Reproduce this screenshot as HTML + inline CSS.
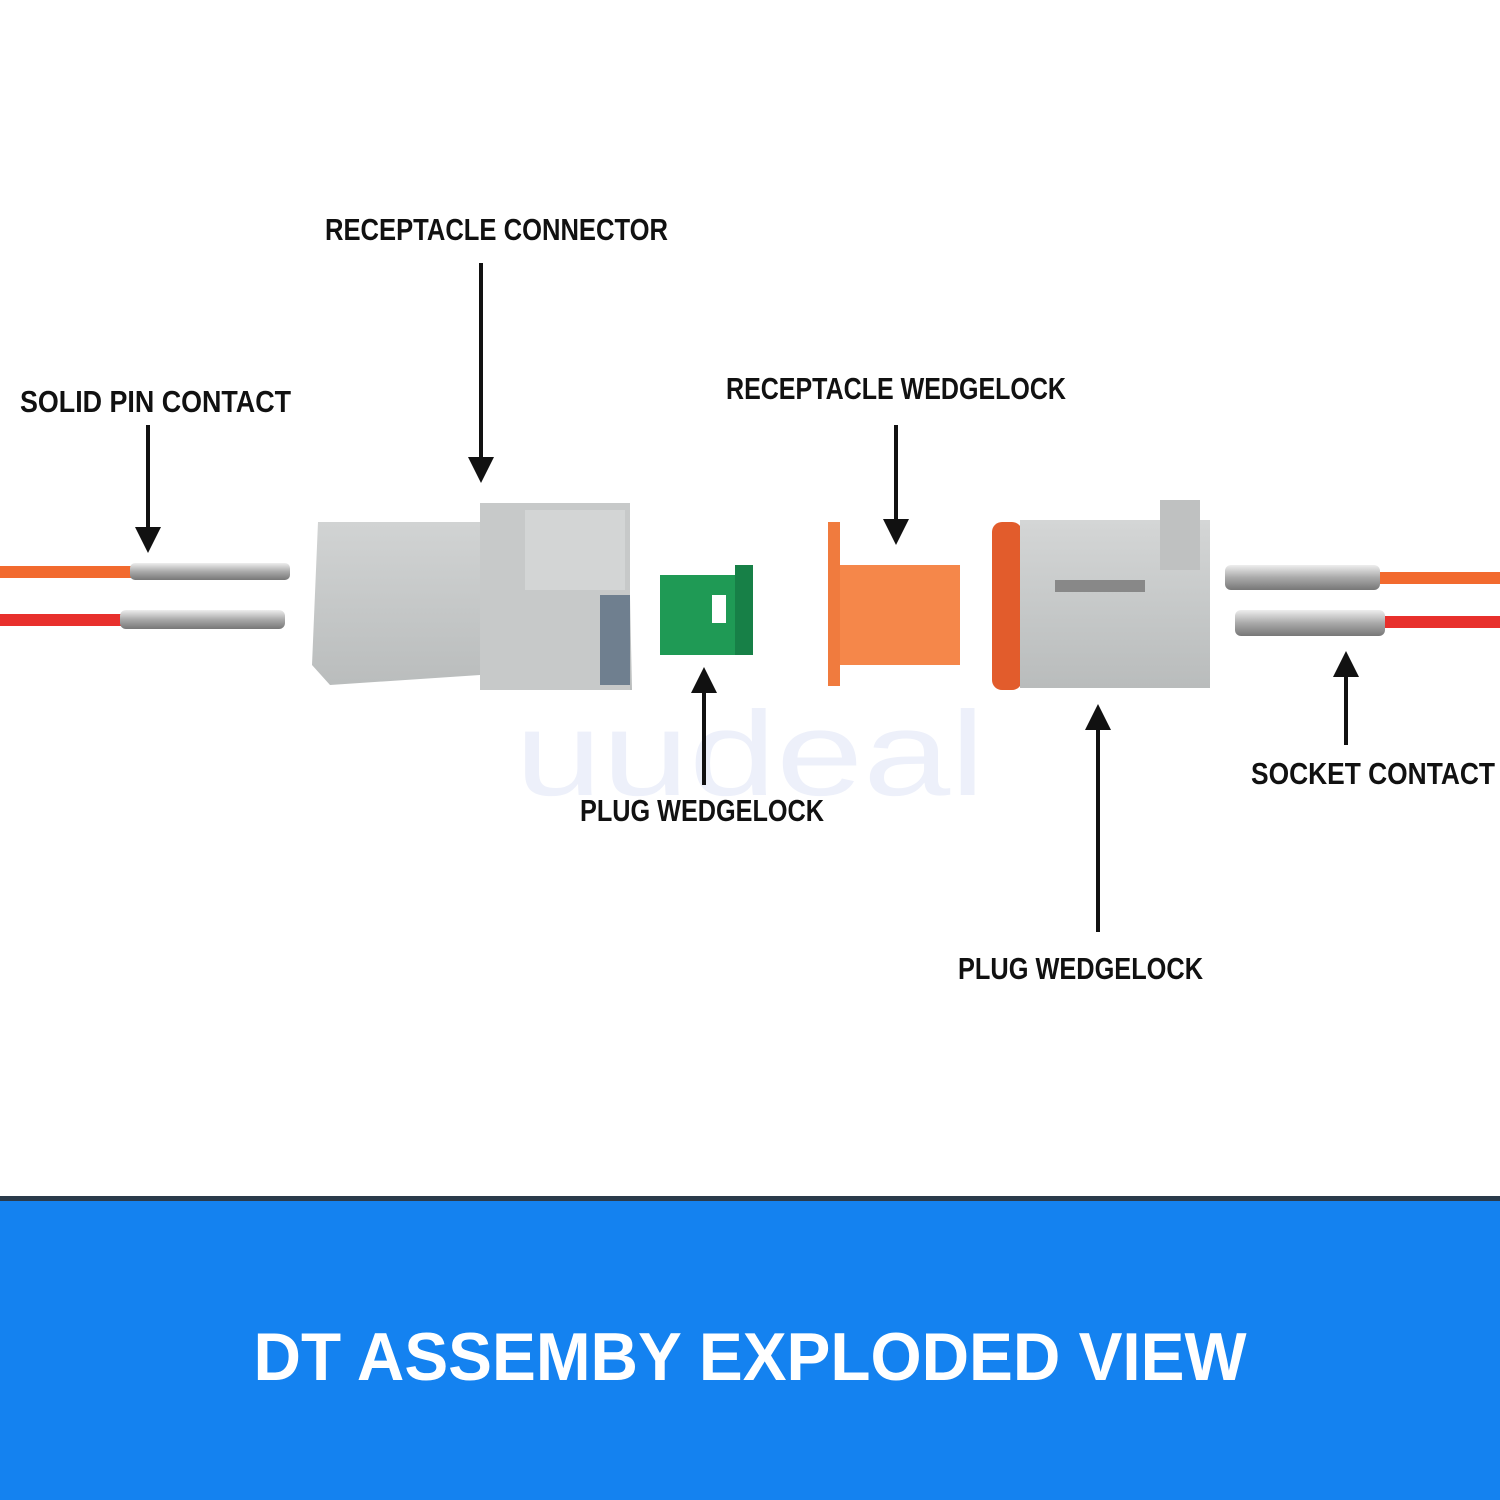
<!DOCTYPE html>
<html><head><meta charset="utf-8"><style>
html,body{margin:0;padding:0;background:#fff;width:1500px;height:1500px;overflow:hidden}
svg{display:block}
.l{font-family:"Liberation Sans Narrow","Liberation Sans",sans-serif;font-weight:bold;font-size:31px;fill:#111}
</style></head><body>
<svg width="1500" height="1500" viewBox="0 0 1500 1500" xmlns="http://www.w3.org/2000/svg">
<defs>
<linearGradient id="g1" x1="0" y1="0" x2="0" y2="1"><stop offset="0" stop-color="#d4d6d6"/><stop offset="1" stop-color="#b9bcbc"/></linearGradient>
<linearGradient id="pin" x1="0" y1="0" x2="0" y2="1"><stop offset="0" stop-color="#eee"/><stop offset=".5" stop-color="#aaa"/><stop offset="1" stop-color="#777"/></linearGradient>
<marker id="ah" viewBox="0 0 10 10" refX="5" refY="5" markerWidth="6.5" markerHeight="6.5" orient="auto-start-reverse"><path d="M0,0L10,5L0,10z" fill="#111"/></marker>
</defs>
<rect width="1500" height="1500" fill="#fff"/>
<rect x="0" y="566" width="135" height="12" fill="#f26a2e"/>
<rect x="0" y="614" width="125" height="12" fill="#e8302c"/>
<rect x="130" y="563" width="160" height="17" rx="5" fill="url(#pin)"/>
<rect x="120" y="610" width="165" height="19" rx="6" fill="url(#pin)"/>
<rect x="1375" y="572" width="125" height="12" fill="#f26a2e"/>
<rect x="1385" y="616" width="115" height="12" fill="#e8302c"/>
<rect x="1225" y="565" width="155" height="25" rx="6" fill="url(#pin)"/>
<rect x="1235" y="610" width="150" height="26" rx="6" fill="url(#pin)"/>
<path d="M318,522 L480,522 L488,503 L628,503 L632,690 L490,690 L480,675 L330,685 L312,665 Z" fill="url(#g1)"/>
<rect x="480" y="503" width="150" height="187" fill="#c7c9c9"/>
<rect x="525" y="510" width="100" height="80" fill="#d3d5d5"/>
<rect x="600" y="595" width="30" height="90" fill="#6f7f8f"/>
<rect x="660" y="575" width="90" height="80" fill="#1f9a55"/>
<rect x="735" y="565" width="18" height="90" fill="#178047"/>
<rect x="712" y="595" width="14" height="28" fill="#fff"/>
<rect x="828" y="522" width="12" height="164" fill="#f07b3e"/>
<rect x="840" y="565" width="120" height="100" fill="#f5874a"/>
<rect x="992" y="522" width="30" height="168" rx="10" fill="#e25c2c"/>
<rect x="1020" y="520" width="190" height="168" fill="url(#g1)"/>
<rect x="1160" y="500" width="40" height="70" fill="#bfc1c1"/>
<rect x="1055" y="580" width="90" height="12" fill="#888"/>
<text x="515" y="795" font-family="Liberation Sans" font-size="120" fill="#edf0fa" textLength="470" lengthAdjust="spacingAndGlyphs">uudeal</text>
<g stroke="#111" stroke-width="4" fill="none">
<line x1="481" y1="263" x2="481" y2="470" marker-end="url(#ah)"/>
<line x1="148" y1="425" x2="148" y2="540" marker-end="url(#ah)"/>
<line x1="896" y1="425" x2="896" y2="532" marker-end="url(#ah)"/>
<line x1="704" y1="785" x2="704" y2="680" marker-end="url(#ah)"/>
<line x1="1098" y1="932" x2="1098" y2="717" marker-end="url(#ah)"/>
<line x1="1346" y1="745" x2="1346" y2="664" marker-end="url(#ah)"/>
</g>
<text class="l" x="325" y="240" textLength="343" lengthAdjust="spacingAndGlyphs">RECEPTACLE CONNECTOR</text>
<text class="l" x="20" y="412" textLength="271" lengthAdjust="spacingAndGlyphs">SOLID PIN CONTACT</text>
<text class="l" x="726" y="399" textLength="340" lengthAdjust="spacingAndGlyphs">RECEPTACLE WEDGELOCK</text>
<text class="l" x="580" y="821" textLength="244" lengthAdjust="spacingAndGlyphs">PLUG WEDGELOCK</text>
<text class="l" x="1251" y="784" textLength="244" lengthAdjust="spacingAndGlyphs">SOCKET CONTACT</text>
<text class="l" x="958" y="979" textLength="245" lengthAdjust="spacingAndGlyphs">PLUG WEDGELOCK</text>
<rect x="0" y="1196" width="1500" height="304" fill="#1482f0"/>
<rect x="0" y="1196" width="1500" height="5" fill="#2a3a4a"/>
<text x="750" y="1380" text-anchor="middle" font-family="Liberation Sans,sans-serif" font-weight="bold" font-size="68" fill="#fff" textLength="993" lengthAdjust="spacingAndGlyphs">DT ASSEMBY EXPLODED VIEW</text>
</svg>
</body></html>
